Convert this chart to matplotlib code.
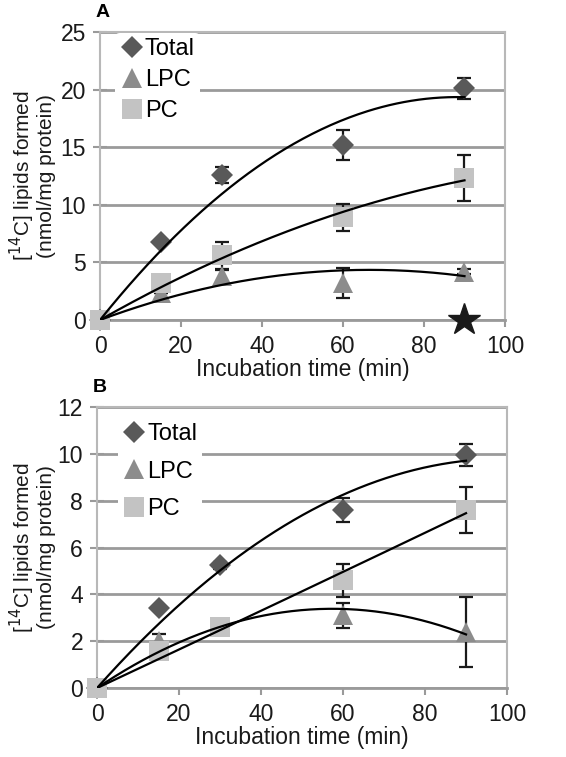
import numpy as np
import matplotlib.pyplot as plt

plt.rcParams['font.family'] = ['Liberation Sans', 'DejaVu Sans']

# data
t = [0, 15, 30, 60, 90]

a_total = [0, 6.8, 12.6, 15.2, 20.1]
a_total_err = [0, 0, 0.7, 1.3, 0.9]
a_lpc = [0, 2.3, 3.8, 3.2, 4.2]
a_lpc_err = [0, 0, 0.5, 1.3, 0.2]
a_pc = [0, 3.2, 5.6, 8.9, 12.3]
a_pc_err = [0, 0, 1.2, 1.2, 2.0]

b_total = [0, 3.4, 5.25, 7.6, 9.95]
b_total_err = [0, 0, 0.15, 0.5, 0.45]
b_lpc = [0, 2.0, 2.6, 3.1, 2.4]
b_lpc_err = [0, 0.3, 0.3, 0.55, 1.5]
b_pc = [0, 1.6, 2.6, 4.6, 7.6]
b_pc_err = [0, 0, 0.3, 0.7, 1.0]

series_names = ['Total', 'LPC', 'PC']
markers = ['D', '^', 's']
colors = ['#595959', '#8c8c8c', '#c3c3c3']
msizes = [11, 14, 14]

fig = plt.figure(figsize=(5.66, 7.57), dpi=100)
axA = fig.add_axes([0.1767, 0.5773, 0.7155, 0.3804])
axB = fig.add_axes([0.1714, 0.0911, 0.7244, 0.3713])


def panel(ax, ys, errs, ymax, ystep, letter, leg_anchor, leg_space, ypad):
    tt = np.array(t, dtype=float)
    xs = np.linspace(0, 90, 200)
    X = np.column_stack([tt, tt ** 2])
    handles = []
    for y, e, m, c, ms, name in zip(ys, errs, markers, colors, msizes, series_names):
        y = np.array(y)
        ax.errorbar(tt, y, yerr=e, fmt='none', ecolor='#1a1a1a', elinewidth=1.6,
                    capsize=5, capthick=1.6, zorder=3)
        h, = ax.plot(tt, y, linestyle='none', marker=m, color=c, markersize=ms,
                     markeredgewidth=0, zorder=4, label=name, clip_on=False)
        handles.append(h)
        # polynomial trend line (order 2, through the origin)
        coef = np.linalg.lstsq(X, y, rcond=None)[0]
        ax.plot(xs, coef[0] * xs + coef[1] * xs ** 2, color='black', lw=1.6, zorder=5)
    ax.set_xlim(0, 100)
    ax.set_ylim(0, ymax)
    ax.set_xticks(np.arange(0, 101, 20))
    ax.set_yticks(np.arange(0, ymax + 0.1, ystep))
    ax.yaxis.grid(True, color='#9a9a9a', lw=2)
    ax.set_axisbelow(True)
    for s in ax.spines.values():
        s.set_color('#b8b8b8')
        s.set_linewidth(1.5)
    ax.spines['bottom'].set_color('#9a9a9a')
    ax.spines['bottom'].set_linewidth(2)
    ax.tick_params(axis='both', labelsize=16.5, color='#9a9a9a', width=1.5,
                   labelcolor='#1a1a1a')
    ax.tick_params(axis='y', direction='inout', length=10, pad=5)
    ax.tick_params(axis='x', direction='out', length=5, pad=6)
    ax.set_xlabel('Incubation time (min)', fontsize=16.5, color='#1a1a1a', labelpad=0)
    ax.set_ylabel('[$^{14}$C] lipids formed\n(nmol/mg protein)', fontsize=15,
                  color='#1a1a1a', linespacing=1.0, labelpad=ypad)
    leg = ax.legend(handles=handles, loc='upper left', frameon=True, fontsize=17,
                    handletextpad=0.05, labelspacing=leg_space, borderpad=0.2,
                    bbox_to_anchor=leg_anchor, handlelength=1.0, borderaxespad=0)
    leg.get_frame().set_edgecolor('none')
    leg.get_frame().set_facecolor('white')
    leg.get_frame().set_alpha(1)
    leg.set_zorder(6)
    ax.text(-0.01, 1.04, letter, transform=ax.transAxes, fontsize=14,
            fontweight='bold', ha='left', va='bottom')


panel(axA, [a_total, a_lpc, a_pc], [a_total_err, a_lpc_err, a_pc_err], 25, 5, 'A',
      (0.038, 0.995), 0.38, 3)
panel(axB, [b_total, b_lpc, b_pc], [b_total_err, b_lpc_err, b_pc_err], 12, 2, 'B',
      (0.05, 0.96), 0.66, 1)

# significance star at 90 min in panel A
axA.plot([90], [0], marker='*', color='#1a1a1a', markersize=24, clip_on=False, zorder=7)

fig.savefig('out.png', dpi=100)
